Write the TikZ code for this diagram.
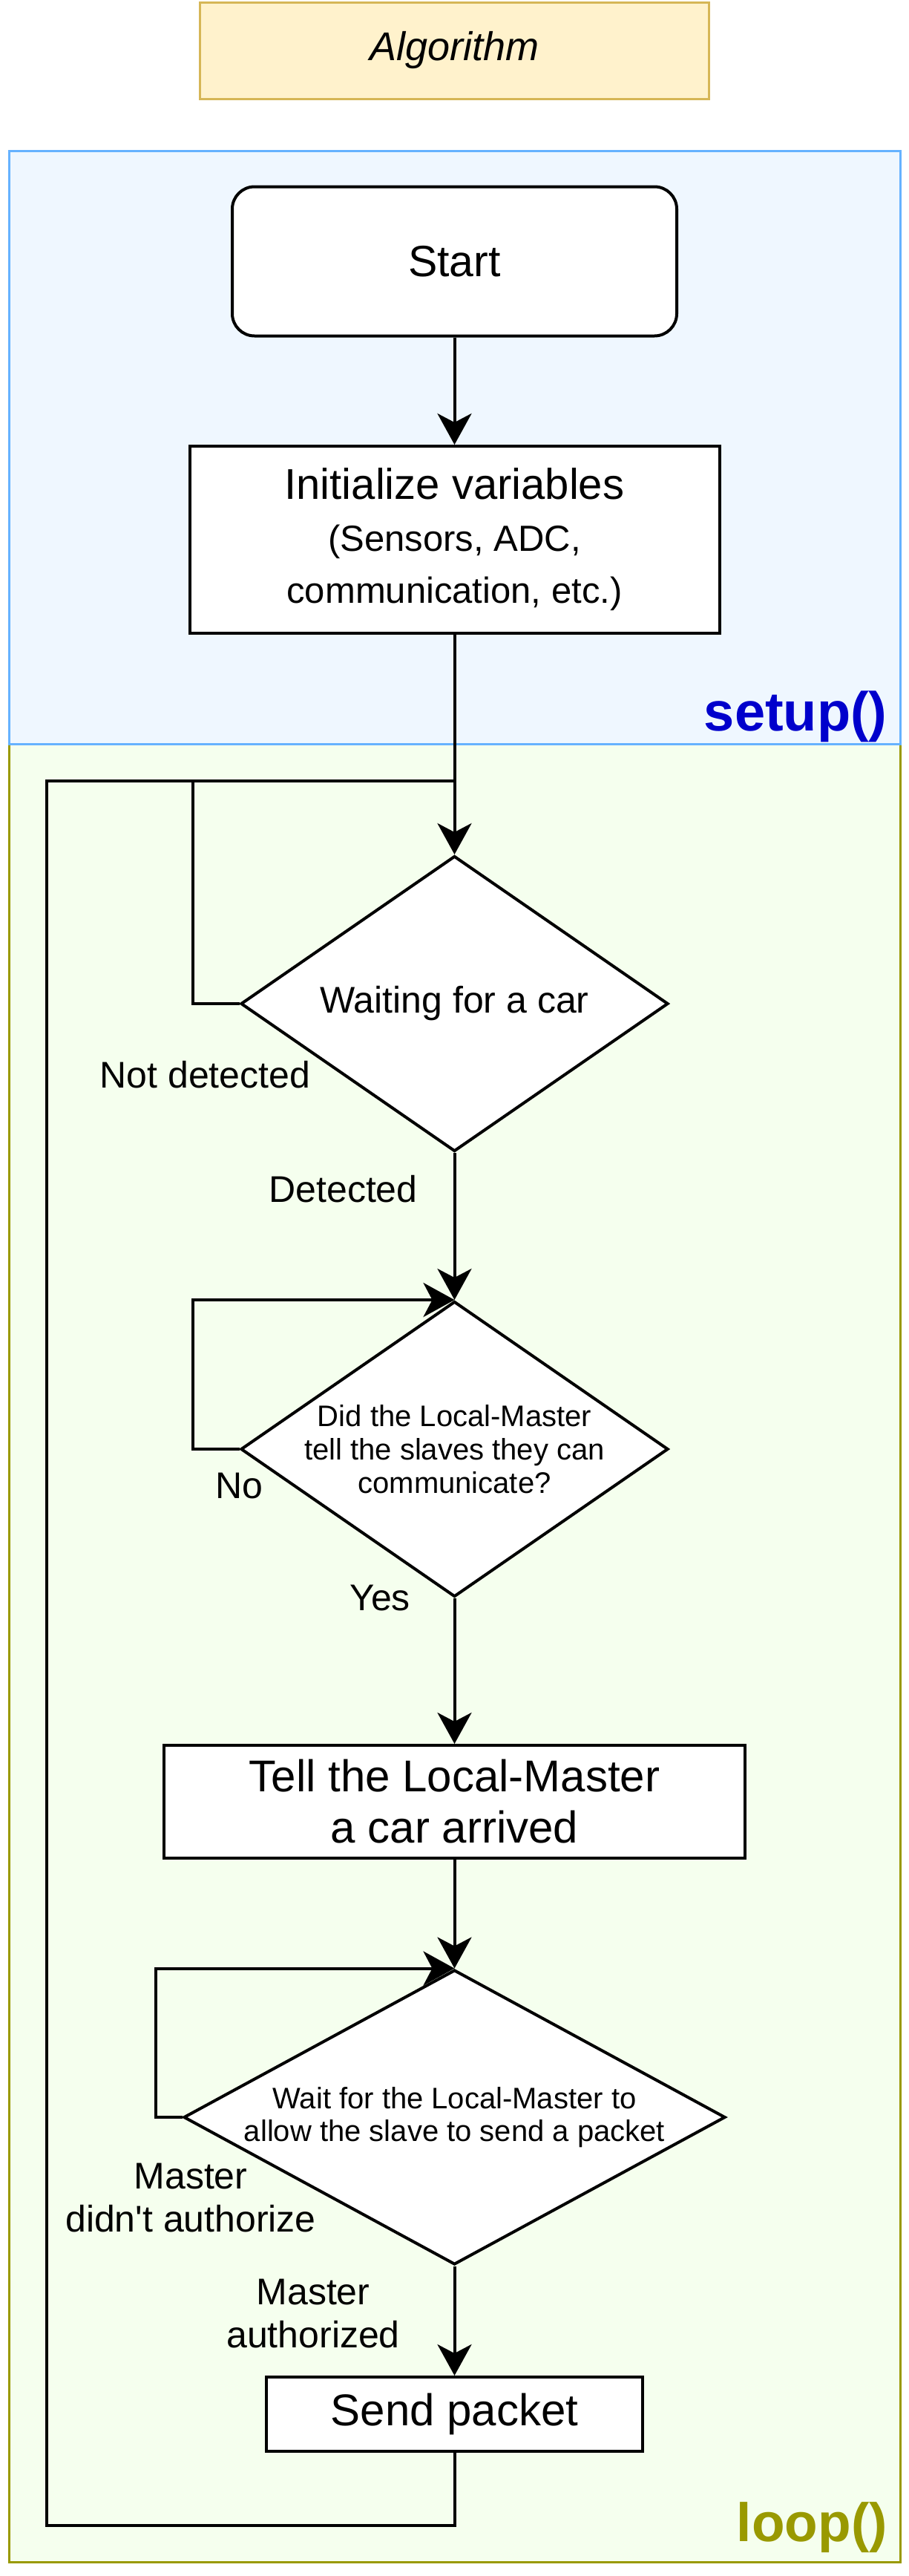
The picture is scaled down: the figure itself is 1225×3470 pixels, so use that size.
\documentclass[tikz,border=0pt]{standalone}
\usepackage{fontspec}
\setmainfont{Liberation Sans}
\usetikzlibrary{shapes.geometric, arrows.meta}
\definecolor{algo-yellow}{HTML}{FFF2CC}
\definecolor{algo-gold}{HTML}{D6B656}
\definecolor{setup-fill}{HTML}{EFF7FF}
\definecolor{setup-line}{HTML}{66B2FF}
\definecolor{setup-text}{HTML}{0000CC}
\definecolor{loop-fill}{HTML}{F5FFEE}
\definecolor{loop-olive}{HTML}{999900}
\newcommand{\pxfont}[2]{\fontsize{#1pt}{#2pt}\selectfont}

\tikzset{
  stepbox/.style={draw, line width=2pt, fill=white, align=center, inner sep=0pt},
  decision/.style={draw, diamond, line width=2pt, fill=white, inner sep=0pt},
  flowline/.style={line width=2pt, -{Stealth[length=21pt, width=23pt, inset=6pt]}},
  loopline/.style={line width=2pt},
  branch/.style={align=center, font=\pxfont{25}{29}},
}

\begin{document}
\begin{tikzpicture}[x=0.5pt, y=-0.5pt]
  \useasboundingbox (0,0) rectangle (1225,3470);

  % containers
  \draw[loop-olive, fill=loop-fill, line width=1.5pt] (12,1002) rectangle (1213,3451);
  \draw[setup-line, fill=setup-fill, line width=1.5pt] (12,203) rectangle (1213,1002);
  \node[anchor=east, inner sep=0pt, text=setup-text, font=\bfseries\pxfont{37}{40}] (setup-lbl) at (1196,965) {setup()};
  \node[anchor=east, inner sep=0pt, text=loop-olive, font=\bfseries\pxfont{36.5}{40}] (loop-lbl) at (1196,3405) {loop()};

  \node[draw=algo-gold, fill=algo-yellow, line width=1.5pt, minimum width=343pt,
        minimum height=65pt, font=\itshape\pxfont{27}{30}] (title) at (612.5,68) {Algorithm};

  % steps
  \node[stepbox, rounded corners=15pt, minimum width=299.5pt, minimum height=100.5pt,
        font=\pxfont{29.5}{35}] (start) at (612.5,352) {Start};
  \node[stepbox, minimum width=357pt, minimum height=126pt, font=\pxfont{24.5}{35}] (init) at (612.5,727)
        {{\pxfont{29}{35}Initialize variables}\\(Sensors, ADC,\\communication, etc.)};
  \node[decision, minimum width=288pt, minimum height=199pt] (wait) at (612.5,1352) {};
  \node[font=\pxfont{25}{30}] (wait-txt) at (wait) {Waiting for a car};
  \node[decision, minimum width=288pt, minimum height=199pt] (check) at (612.5,1952) {};
  \node[align=center, font=\pxfont{20}{22.5}] (check-txt) at (check)
        {Did the Local-Master\\tell the slaves they can\\communicate?};
  \node[stepbox, minimum width=391.5pt, minimum height=76pt, font=\pxfont{30}{34.5}] (tell) at (612.5,2427)
        {Tell the Local-Master\\a car arrived};
  \node[decision, minimum width=365pt, minimum height=198.5pt] (permit) at (612.5,2852) {};
  \node[align=center, font=\pxfont{20}{22}] (permit-txt) at (permit)
        {Wait for the Local-Master to\\allow the slave to send a packet};
  \node[stepbox, minimum width=253.5pt, minimum height=50pt, font=\pxfont{30}{34}] (send) at (612.5,3252) {Send packet};

  % connectors
  \coordinate (join) at (612.5,1052);
  \draw[flowline] (start) -- (init);
  \draw[flowline] (init) -- (wait);
  \draw[loopline] (wait.west) -- ++(-63,0) |- (join);
  \draw[loopline] (send.south) -- (send.south |- 0,3402) -| (62.5,1052) -- (join);
  \draw[flowline] (wait) -- (check);
  \draw[flowline] (check.west) -- ++(-63,0) |- (check.north);
  \draw[flowline] (check) -- (tell);
  \draw[flowline] (tell) -- (permit);
  \draw[flowline] (permit.west) -- ++(-36,0) |- (permit.north);
  \draw[flowline] (permit) -- (send);

  % branch labels
  \node[branch] (lbl-notdet) at (276.5,1448) {Not detected};
  \node[branch] (lbl-det) at (462.5,1602) {Detected};
  \node[branch] (lbl-no) at (322.5,2002) {No};
  \node[branch] (lbl-yes) at (512,2153) {Yes};
  \node[branch] (lbl-deny) at (257,2961) {Master\\didn\textquotesingle t authorize};
  \node[branch] (lbl-grant) at (422,3117) {Master\\authorized};
\end{tikzpicture}
\end{document}
